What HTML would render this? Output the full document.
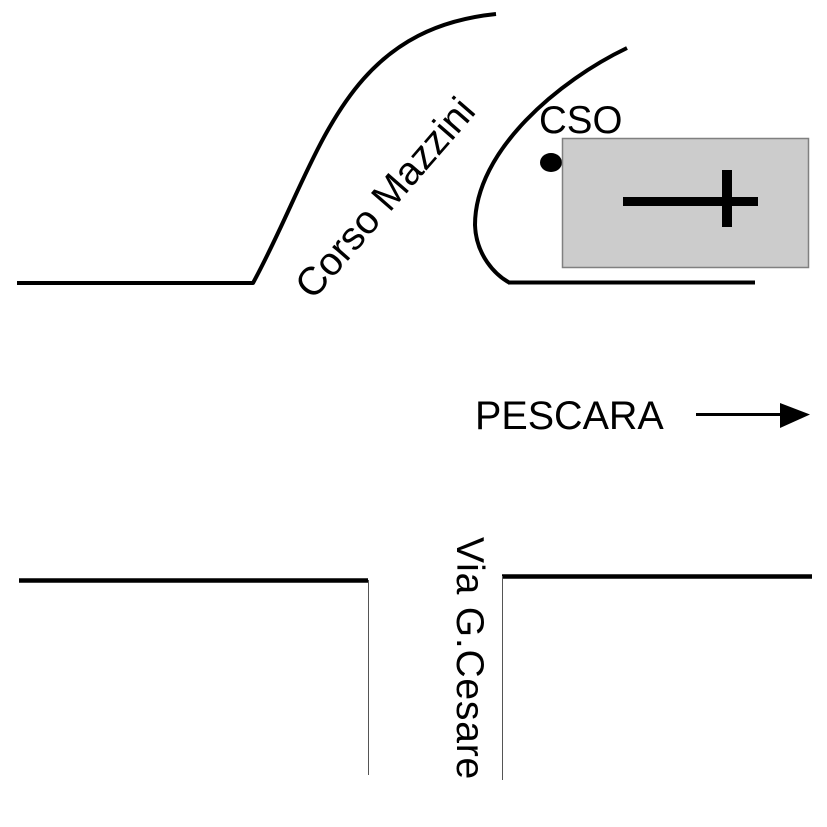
<!DOCTYPE html>
<html>
<head>
<meta charset="utf-8">
<style>
  html, body { margin: 0; padding: 0; background: #fff; }
  svg { display: block; }
  text { font-family: "Liberation Sans", Arial, sans-serif; fill: #000; }
</style>
</head>
<body>
<svg width="827" height="827" viewBox="0 0 827 827" xmlns="http://www.w3.org/2000/svg">
  <!-- Top-left road edge with Corso Mazzini curve -->
  <path d="M17,283 L253,283 C320,160 340,30 496,14" fill="none" stroke="#000" stroke-width="4" stroke-linejoin="round"/>
  <!-- Right curve -->
  <path d="M627,48 C560,80 475,150 475,225 C476,255 495,275 510,283" fill="none" stroke="#000" stroke-width="4"/>
  <line x1="508" y1="282.5" x2="755" y2="282.5" stroke="#000" stroke-width="4"/>

  <!-- Corso Mazzini label -->
  <text x="0" y="0" font-size="39.5" transform="translate(313,301) rotate(-49)">Corso Mazzini</text>

  <!-- CSO label and dot -->
  <text x="539" y="133" font-size="38.5">CSO</text>
  <ellipse cx="551" cy="162.5" rx="11" ry="9.5" fill="#000"/>

  <!-- Grey box with cross -->
  <rect x="562.5" y="138.5" width="246" height="129" fill="#cccccc" stroke="#808080" stroke-width="1.5"/>
  <rect x="623" y="197" width="135" height="9" fill="#000"/>
  <rect x="722" y="170" width="10" height="57" fill="#000"/>

  <!-- PESCARA arrow -->
  <text x="475" y="429" font-size="39.5">PESCARA</text>
  <line x1="696" y1="414.5" x2="785" y2="414.5" stroke="#000" stroke-width="3"/>
  <polygon points="780,403 810,414.5 780,428" fill="#000"/>

  <!-- Bottom road edges -->
  <line x1="19" y1="580.5" x2="368" y2="580.5" stroke="#000" stroke-width="4.5"/>
  <line x1="368.5" y1="580" x2="368.5" y2="775" stroke="#555" stroke-width="1"/>
  <line x1="502" y1="576.5" x2="812" y2="576.5" stroke="#000" stroke-width="4.5"/>
  <line x1="502.5" y1="576" x2="502.5" y2="780" stroke="#555" stroke-width="1"/>

  <!-- Via G.Cesare label -->
  <text x="0" y="0" font-size="39" letter-spacing="0.8" transform="translate(457,537) rotate(90)">Via G.Cesare</text>
</svg>
</body>
</html>
